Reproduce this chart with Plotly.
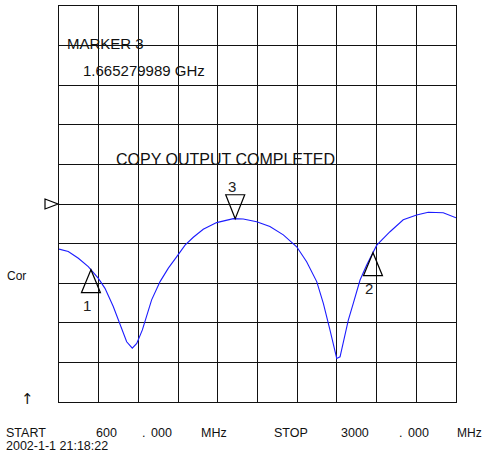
import numpy as np
import plotly.graph_objects as go

# ---- data (frequency in MHz, response in screen divisions) ----
freq_mhz = [600, 656, 717, 777, 838, 878, 928, 969, 1009, 1043, 1070, 1104, 1160,
            1211, 1261, 1312, 1362, 1412, 1472, 1553, 1654, 1714, 1795, 1875, 1956,
            2037, 2097, 2158, 2198, 2238, 2279, 2299, 2329, 2349, 2379, 2420, 2460,
            2521, 2601, 2681, 2762, 2832, 2923, 3000]
response = [3.86, 3.80, 3.63, 3.42, 3.12, 2.87, 2.41, 1.94, 1.52, 1.36, 1.48, 1.82, 2.58,
            3.04, 3.38, 3.67, 3.96, 4.16, 4.36, 4.53, 4.63, 4.62, 4.55, 4.43, 4.22,
            3.92, 3.54, 3.04, 2.49, 1.82, 1.10, 1.14, 1.73, 2.07, 2.49, 3.08, 3.46,
            3.96, 4.30, 4.60, 4.72, 4.79, 4.78, 4.65]

marker_ids = ["1", "2", "3"]
marker_freq = [793, 2498, 1665.279989]
marker_dir = ["up", "up", "down"]
ref_level = 5

x_start, x_stop = 600, 3000
n_div = 10

FONT = "Liberation Sans"

# plot area in pixels
W, H = 483, 461
L, R, T, B = 59, 27, 6, 59
pw, ph = W - L - R, H - T - B


def px(xp):
    return (xp - L) / pw


def py(yp):
    return (H - B - yp) / ph


fig = go.Figure()
fig.add_trace(go.Scatter(x=freq_mhz, y=response, mode="lines",
                         line=dict(color="#1c1cff", width=1.1),
                         hoverinfo="skip", showlegend=False))

shapes = []
annotations = []

marker_val = np.interp(marker_freq, freq_mhz, response)
for mid, mf, mv, md in zip(marker_ids, marker_freq, marker_val, marker_dir):
    if md == "up":
        path = "M0,0 L-9.5,-23 L9.5,-23 Z"
        ys = -36
    else:
        path = "M0,0 L-9.5,24 L9.5,24 Z"
        ys = 32
    shapes.append(dict(type="path", xref="x", yref="y", xsizemode="pixel", ysizemode="pixel",
                       xanchor=mf, yanchor=float(mv), path=path,
                       line=dict(color="black", width=1.2), fillcolor="rgba(0,0,0,0)"))
    annotations.append(dict(x=mf, y=float(mv), xref="x", yref="y", text=mid, showarrow=False,
                            xshift=-3.5, yshift=ys, font=dict(family=FONT, size=15, color="#222")))

# reference level arrow
shapes.append(dict(type="path", xref="paper", yref="y", xsizemode="pixel", ysizemode="pixel",
                   xanchor=0, yanchor=ref_level, path="M-14,5 L-1,0 L-14,-5 Z",
                   line=dict(color="black", width=1.2), fillcolor="rgba(0,0,0,0)"))


def txt(s, xp, yp, size=12, anchor="left", family=FONT):
    annotations.append(dict(x=px(xp), y=py(yp), xref="paper", yref="paper", text=s,
                            showarrow=False, xanchor=anchor, yanchor="middle",
                            font=dict(family=family, size=size, color="#111")))


txt("MARKER 3", 65, 44, 15)
txt("1.665279989 GHz", 81, 70, 15)
txt("COPY OUTPUT COMPLETED", 114, 159, 16)
txt("Cor", 5, 276, 12)
txt("↑", 27, 399, 15, "center", "DejaVu Sans")
txt("START", 4, 433, 12.5)
txt("600", 94, 433, 12.5)
txt(".", 140, 433, 12.5)
txt("000", 149, 433, 12.5)
txt("MHz", 199, 433, 12.5)
txt("STOP", 272, 433, 12.5)
txt("3000", 339, 433, 12.5)
txt(".", 397, 433, 12.5)
txt("000", 406, 433, 12.5)
txt("MHz", 455, 433, 12)
txt("2002-1-1 21:18:22", 4, 446, 12.5)

axis_common = dict(showgrid=True, gridcolor="#111", gridwidth=1.3, zeroline=False,
                   showline=True, linecolor="#111", linewidth=1.3, mirror=True,
                   showticklabels=False, ticks="", fixedrange=True)

fig.update_layout(
    width=W, height=H,
    margin=dict(l=L, r=R, t=T, b=B, pad=0),
    paper_bgcolor="white", plot_bgcolor="white",
    xaxis=dict(range=[x_start, x_stop], dtick=(x_stop - x_start) / n_div, tick0=x_start, **axis_common),
    yaxis=dict(range=[0, n_div], dtick=1, tick0=0, **axis_common),
    shapes=shapes, annotations=annotations, showlegend=False,
)

fig.write_html("out.html", config={"displayModeBar": False},
               post_script="document.body.style.margin='0';document.body.style.overflow='hidden';")
